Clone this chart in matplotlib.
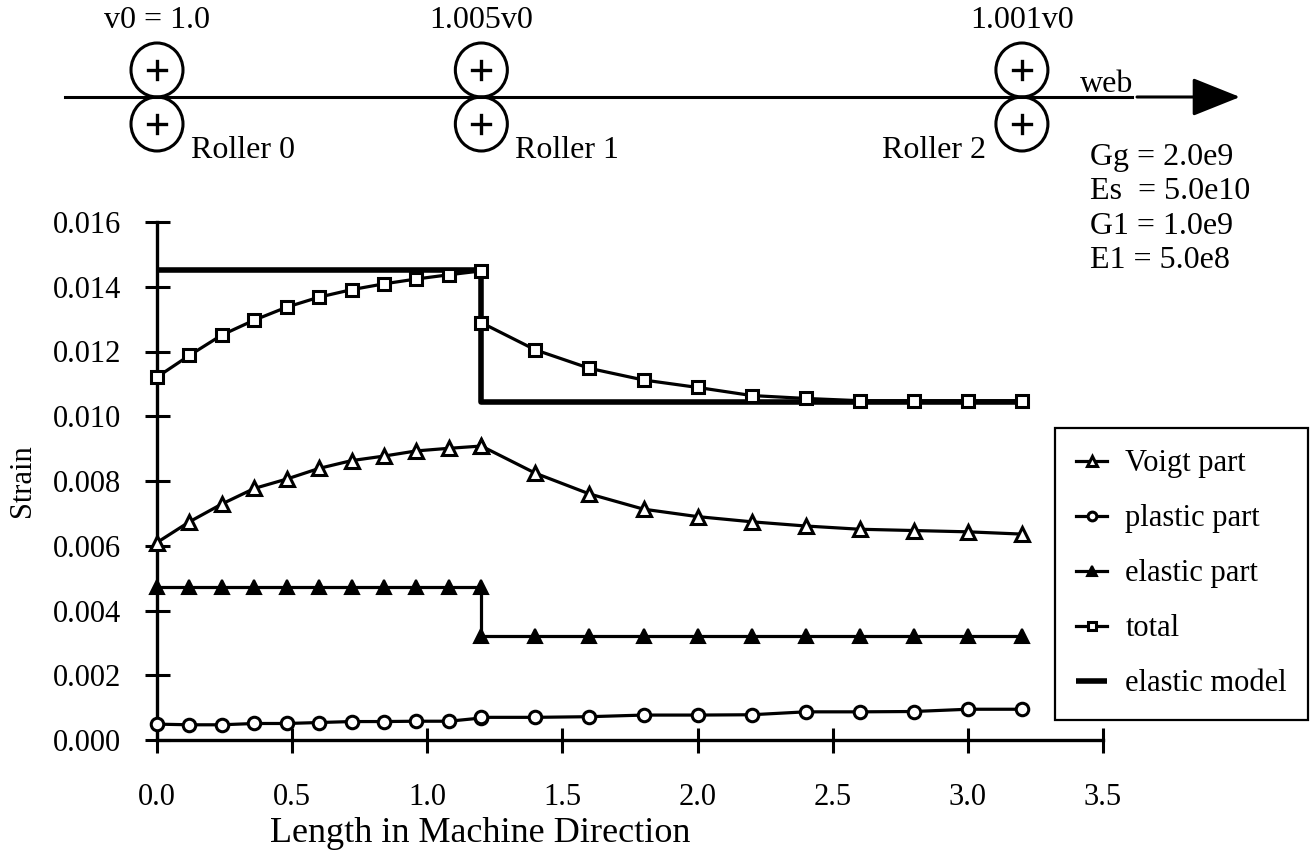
import matplotlib
matplotlib.use("Agg")
import matplotlib.pyplot as plt
from matplotlib.patches import Ellipse
from matplotlib.ticker import FormatStrFormatter

plt.rcParams["font.family"] = ["Liberation Serif", "DejaVu Serif"]

W, H = 1310, 857

# values
x_pos = [0.0, 0.12, 0.24, 0.36, 0.48, 0.60, 0.72, 0.84, 0.96, 1.08, 1.20,
         1.20, 1.40, 1.60, 1.80, 2.00, 2.20, 2.40, 2.60, 2.80, 3.00, 3.20]
voigt = [0.00610, 0.00674, 0.00729, 0.00777, 0.00806, 0.00839, 0.00863, 0.00877,
         0.00893, 0.00901, 0.00908, 0.00908, 0.00824, 0.00760, 0.00713, 0.00690,
         0.00674, 0.00661, 0.00651, 0.00647, 0.00643, 0.00636]
plastic = [0.00049, 0.00047, 0.00047, 0.00051, 0.00051, 0.00054, 0.00057, 0.00057,
           0.00058, 0.00058, 0.00068, 0.00070, 0.00070, 0.00072, 0.00077, 0.00077,
           0.00078, 0.00087, 0.00087, 0.00088, 0.00095, 0.00095]
elastic = [0.00472, 0.00472, 0.00472, 0.00472, 0.00472, 0.00472, 0.00472, 0.00472,
           0.00472, 0.00472, 0.00472, 0.00322, 0.00322, 0.00322, 0.00322, 0.00322,
           0.00322, 0.00322, 0.00322, 0.00322, 0.00322, 0.00322]
total = [0.01121, 0.01188, 0.01251, 0.01297, 0.01337, 0.01368, 0.01391, 0.01409,
         0.01424, 0.01437, 0.01449, 0.01289, 0.01205, 0.01148, 0.01112, 0.01089,
         0.01064, 0.01055, 0.01048, 0.01048, 0.01048, 0.01048]
model_x = [0.0, 1.2, 1.2, 3.2]
model_y = [0.01452, 0.01452, 0.01045, 0.01045]

roller_x = [0.0, 1.2, 3.2]
roller_speed = ["v0 = 1.0", "1.005v0", "1.001v0"]
roller_name = ["Roller 0", "Roller 1", "Roller 2"]
params = ["Gg = 2.0e9", "Es  = 5.0e10", "G1 = 1.0e9", "E1 = 5.0e8"]

FS = 22      # ticks, legend
FS_TOP = 23  # roller diagram text

fig = plt.figure(figsize=(W / 100, H / 100), dpi=100)
ax = fig.add_axes([157 / W, 1 - 740 / H, 946 / W, 518 / H])

line_kw = dict(color="black", lw=2.3, clip_on=False, zorder=3)
ax.plot(model_x, model_y, color="black", lw=4.0, solid_capstyle="butt",
        clip_on=False, zorder=2, label="elastic model")
ax.plot(x_pos, voigt, marker="^", ms=10, mfc="white", mec="black", mew=2.2,
        label="Voigt part", **line_kw)
ax.plot(x_pos, plastic, marker="o", ms=9, mfc="white", mec="black", mew=2.2,
        label="plastic part", **line_kw)
ax.plot(x_pos, elastic, marker="^", ms=10, mfc="black", mec="black", mew=1.5,
        label="elastic part", **line_kw)
ax.plot(x_pos, total, marker="s", ms=9, mfc="white", mec="black", mew=2.2,
        label="total", **line_kw)

ax.set_xlim(0, 3.5)
ax.set_ylim(0, 0.016)
ax.set_xticks([0.0, 0.5, 1.0, 1.5, 2.0, 2.5, 3.0, 3.5])
ax.set_yticks([0.000, 0.002, 0.004, 0.006, 0.008, 0.010, 0.012, 0.014, 0.016])
ax.xaxis.set_major_formatter(FormatStrFormatter("%.1f"))
ax.yaxis.set_major_formatter(FormatStrFormatter("%.3f"))
for s in ("top", "right"):
    ax.spines[s].set_visible(False)
for s in ("left", "bottom"):
    ax.spines[s].set_linewidth(2.4)
ax.tick_params(direction="inout", length=18, width=2.2, labelsize=FS)
ax.tick_params(axis="x", pad=22)
ax.tick_params(axis="y", pad=17)
ax.set_facecolor("none")

ax.set_ylabel("Strain", fontsize=FS)
ax.yaxis.label.set_va("center")
ax.yaxis.set_label_coords((22 - 157) / 946, 0.5)
ax.set_xlabel("Length in Machine Direction", fontsize=26)
ax.xaxis.label.set_va("center")
ax.xaxis.set_label_coords((480 - 157) / 946, (740 - 834) / 518)

# legend, order as in the reference
handles, labels = ax.get_legend_handles_labels()
order = ["Voigt part", "plastic part", "elastic part", "total", "elastic model"]
hmap = dict(zip(labels, handles))
leg = fig.legend([hmap[k] for k in order], order, loc="upper left",
                 bbox_to_anchor=(1055 / W, 1 - 428 / H), borderaxespad=0,
                 fontsize=FS, fancybox=False, edgecolor="black", framealpha=1,
                 handlelength=1.0, handletextpad=0.6, labelspacing=0.85,
                 borderpad=0.7, markerscale=0.7)
leg.get_frame().set_linewidth(1.6)

# roller diagram on a full-figure overlay in pixel units
ov = fig.add_axes([0, 0, 1, 1], zorder=-1)
ov.set_xlim(0, W)
ov.set_ylim(H, 0)
ov.axis("off")

web_y = 97
r_w, r_h = 52, 54
fig.canvas.draw()
roller_px = [ax.transData.transform((x, 0))[0] for x in roller_x]

ov.plot([65, 1132], [web_y, web_y], color="black", lw=2.2)
ov.annotate("", xy=(1240, web_y), xytext=(1137, web_y),
            arrowprops=dict(arrowstyle="-|>,head_length=1.5,head_width=0.6",
                            mutation_scale=20, lw=2.2, color="black",
                            shrinkA=0, shrinkB=0))
ov.text(1080, 84, "web", fontsize=FS_TOP, ha="left", va="center")

for px, spd, name, i in zip(roller_px, roller_speed, roller_name, range(3)):
    for cy in (web_y - r_h / 2, web_y + r_h / 2):
        ov.add_patch(Ellipse((px, cy), r_w, r_h, fill=False, lw=2.2,
                             edgecolor="black"))
        ov.plot([px - 9, px + 9], [cy, cy], color="black", lw=2.4)
        ov.plot([px, px], [cy - 9, cy + 9], color="black", lw=2.4)
    ov.text(px, 20, spd, fontsize=FS_TOP, ha="center", va="center")
    if i < 2:
        ov.text(px + 34, 150, name, fontsize=FS_TOP, ha="left", va="center")
    else:
        ov.text(px - 36, 150, name, fontsize=FS_TOP, ha="right", va="center")

for k, p in enumerate(params):
    ov.text(1090, 157 + 34.5 * k, p, fontsize=FS_TOP, ha="left", va="center")

fig.savefig("out.png", dpi=100)
